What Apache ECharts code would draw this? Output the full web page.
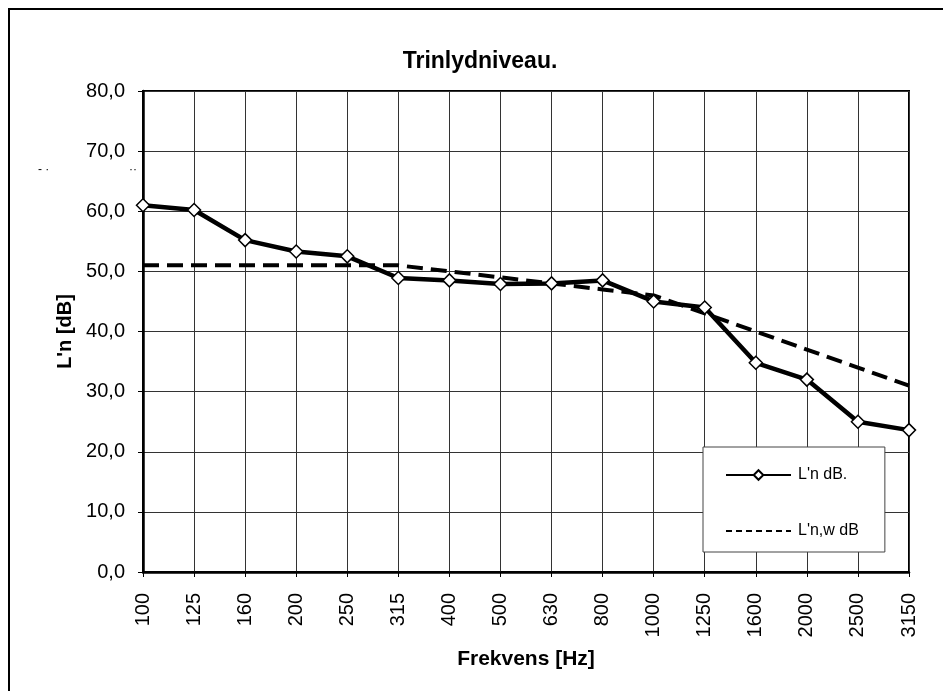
<!DOCTYPE html>
<html>
<head>
<meta charset="utf-8">
<script src="https://cdn.jsdelivr.net/npm/echarts@6/dist/echarts.min.js"></script>
<style>
html,body{margin:0;padding:0;background:#fff;}
#chart{width:943px;height:691px;}
</style>
</head>
<body>
<div id="chart"></div>
<script>
var categories = ['100','125','160','200','250','315','400','500','630','800','1000','1250','1600','2000','2500','3150'];
var measured = [61.0, 60.2, 55.2, 53.3, 52.5, 48.9, 48.5, 47.9, 48.0, 48.5, 45.0, 44.0, 34.8, 32.0, 25.0, 23.6];
var referenceCurve = [51, 51, 51, 51, 51, 51, 50, 49, 48, 47, 46, 43, 40, 37, 34, 31];
var seriesNames = ["L'n dB.", "L'n,w dB"];
var titleText = 'Trinlydniveau.';
var xName = 'Frekvens [Hz]';
var yName = "L'n [dB]";

var FONT = "'Liberation Sans', Arial, sans-serif";
var chart = echarts.init(document.getElementById('chart'), null, {renderer: 'canvas'});
chart.setOption({
  backgroundColor: '#fff',
  animation: false,
  title: {
    text: titleText,
    left: 475, top: 45, textAlign: 'center',
    textStyle: {fontFamily: FONT, fontSize: 23, fontWeight: 'bold', color: '#000'}
  },
  grid: {
    left: 143, top: 91, right: 34, bottom: 119,
    show: true, borderColor: '#000', borderWidth: 2, backgroundColor: 'transparent'
  },
  legend: {
    orient: 'vertical',
    left: 703, top: 447,
    width: 191,
    padding: [20, 26, 13, 22],
    itemGap: 40,
    itemWidth: 65, itemHeight: 12,
    backgroundColor: '#fff',
    borderColor: '#444', borderWidth: 1,
    textStyle: {fontFamily: FONT, fontSize: 16, color: '#000', padding: [0,0,0,2]},
    data: [
      {name: seriesNames[0], lineStyle: {width: 2}},
      {name: seriesNames[1], lineStyle: {width: 2, type: [6, 4]}, itemStyle: {opacity: 0}}
    ]
  },
  xAxis: {
    type: 'category',
    data: categories,
    boundaryGap: false,
    name: xName,
    nameLocation: 'middle',
    nameGap: 77,
    nameTextStyle: {fontFamily: FONT, fontSize: 21, fontWeight: 'bold', color: '#000'},
    axisLine: {lineStyle: {color: '#000', width: 2.5}},
    axisTick: {show: true, length: 5, lineStyle: {color: '#000'}},
    axisLabel: {rotate: 90, margin: 21, fontFamily: FONT, fontSize: 20, color: '#000'},
    splitLine: {show: true, lineStyle: {color: '#333', width: 1}}
  },
  yAxis: {
    type: 'value',
    min: 0, max: 80, interval: 10,
    name: yName,
    nameLocation: 'middle',
    nameGap: 68,
    nameRotate: 90,
    nameTextStyle: {fontFamily: FONT, fontSize: 20, fontWeight: 'bold', color: '#000'},
    axisLine: {show: true, lineStyle: {color: '#000', width: 2.5}},
    axisTick: {show: true, length: 5, lineStyle: {color: '#000'}},
    axisLabel: {
      margin: 18, fontFamily: FONT, fontSize: 20, color: '#000',
      formatter: function (v) { return v.toFixed(1).replace('.', ','); }
    },
    splitLine: {show: true, lineStyle: {color: '#333', width: 1}}
  },
  graphic: [
    {type: 'rect', shape: {x: 9, y: 9, width: 960, height: 720}, style: {fill: 'none', stroke: '#000', lineWidth: 2}, silent: true},
    {type: 'text', left: 38, top: 164, style: {text: '- ·', fill: '#000', font: '12px ' + FONT}},
    {type: 'text', left: 129, top: 164, style: {text: '··', fill: '#000', font: '12px ' + FONT}}
  ],
  series: [
    {
      name: seriesNames[0],
      type: 'line',
      data: measured,
      symbol: 'diamond',
      symbolSize: 13,
      z: 3,
      lineStyle: {color: '#000', width: 4.5},
      itemStyle: {color: '#fff', borderColor: '#000', borderWidth: 1.5}
    },
    {
      name: seriesNames[1],
      type: 'line',
      data: referenceCurve,
      symbol: 'none',
      z: 2,
      lineStyle: {color: '#000', width: 4, type: [16, 8]},
      itemStyle: {color: '#000'}
    }
  ]
});
</script>
</body>
</html>
